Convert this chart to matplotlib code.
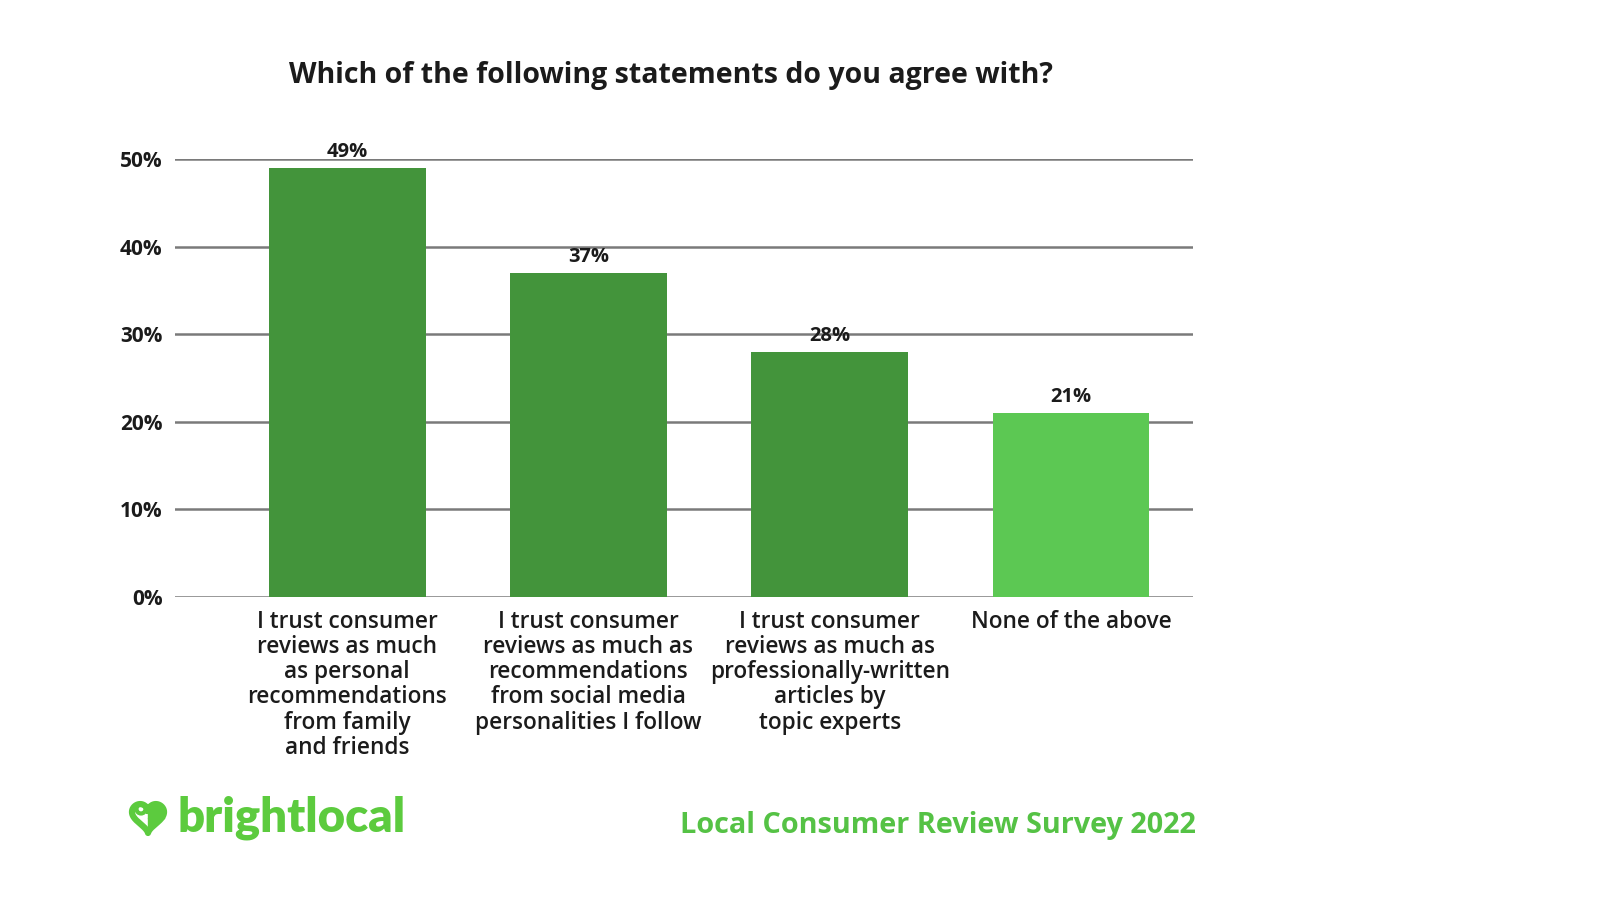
import matplotlib
matplotlib.use("Agg")
import matplotlib.pyplot as plt
import numpy as np
from matplotlib.patches import Circle

categories = [
    "I trust consumer\nreviews as much\nas personal\nrecommendations\nfrom family\nand friends",
    "I trust consumer\nreviews as much as\nrecommendations\nfrom social media\npersonalities I follow",
    "I trust consumer\nreviews as much as\nprofessionally-written\narticles by\ntopic experts",
    "None of the above",
]
values = [49, 37, 28, 21]
value_labels = ["49%", "37%", "28%", "21%"]
yticks = [0, 10, 20, 30, 40, 50]
ytick_labels = ["0%", "10%", "20%", "30%", "40%", "50%"]
title = "Which of the following statements do you agree with?"
footer = "Local Consumer Review Survey 2022"
brand = "brightlocal"

W, H = 1600, 902
FONT = "Open Sans"
DARK = "#43943b"
LIGHT = "#5cc853"
BRAND = "#5ccb3e"
TXT = "#1b1b1b"

fig = plt.figure(figsize=(W / 100, H / 100), dpi=100)
fig.patch.set_facecolor("white")

left, right = 175, 1193
top, bottom = 159, 597
ax = fig.add_axes([left / W, 1 - bottom / H, (right - left) / W, (bottom - top) / H])

x = list(range(len(values)))
colors = [DARK, DARK, DARK, LIGHT]
ax.bar(x, values, width=0.65, color=colors, zorder=3)
ax.set_xlim(-0.714, 3.506)
ax.set_ylim(0, 50)

for s in ax.spines.values():
    s.set_visible(False)
ax.set_yticks(yticks)
ax.set_yticklabels(ytick_labels, fontsize=15, fontweight="bold", color=TXT, family=FONT)
ax.yaxis.grid(True, color="#7a7a7a", linewidth=1.8, zorder=0)
ax.set_axisbelow(True)
ax.tick_params(axis="y", length=0, pad=9)
ax.set_xticks(x)
ax.set_xticklabels(categories, fontsize=16.3, fontweight="semibold", color=TXT,
                   family=FONT, linespacing=1.07, va="top")
ax.tick_params(axis="x", length=0, pad=9)

for xi, v, lab in zip(x, values, value_labels):
    ax.annotate(lab, (xi, v), xytext=(0, 4), textcoords="offset points",
                ha="center", va="bottom", fontsize=14.5, fontweight="bold",
                color=TXT, family=FONT, zorder=5)

fig.text(671 / W, 1 - 76 / H, title, ha="center", va="center", fontsize=20.5,
         fontweight="bold", color=TXT, family=FONT)

# logo heart icon (pixel-coordinate overlay)
lax = fig.add_axes([0, 0, 1, 1])
lax.set_xlim(0, W)
lax.set_ylim(H, 0)
lax.axis("off")
t = np.linspace(0, 2 * np.pi, 200)
hx = 16 * np.sin(t) ** 3
hy = 13 * np.cos(t) - 5 * np.cos(2 * t) - 2 * np.cos(3 * t) - np.cos(4 * t)
cx, cy, sc = 148, 816, 1.0
lax.plot(cx + hx * sc, cy - hy * sc, color=BRAND, lw=4.5, solid_capstyle="round")
lax.fill_between(cx + hx[:100] * sc, cy - hy[:100] * sc, cy + 2, color=BRAND)
lax.add_patch(Circle((cx - 7, cy - 7), 4.5, fill=False, ec=BRAND, lw=3))

fig.text(178 / W, 1 - 818 / H, brand, ha="left", va="center", fontsize=34,
         fontweight="heavy", color=BRAND, family="Lato")
fig.text(1196 / W, 1 - 826 / H, footer, ha="right", va="center", fontsize=20.8,
         fontweight="bold", color="#55c245", family=FONT)

fig.savefig("out.png", dpi=100, facecolor="white")
